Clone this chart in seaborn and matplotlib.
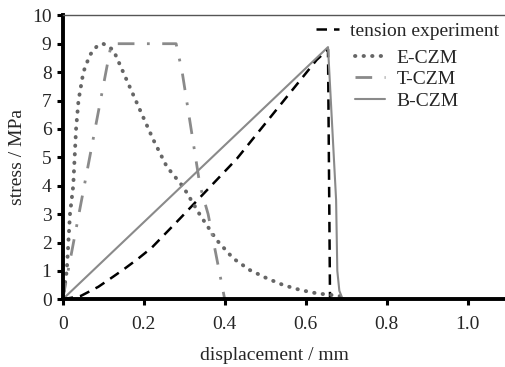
import numpy as np
import pandas as pd
import matplotlib
matplotlib.use("Agg")
import matplotlib.pyplot as plt
import seaborn as sns

# --- data ---
tension_x = [0.0, 0.02, 0.045, 0.088, 0.125, 0.154, 0.187, 0.22, 0.29, 0.38, 0.43,
             0.537, 0.627, 0.655, 0.66]
tension_y = [0.0, 0.05, 0.12, 0.44, 0.80, 1.09, 1.44, 1.82, 2.85, 4.2, 4.95,
             6.84, 8.43, 8.8, 0.0]

ecz_x = [0.0, 0.005, 0.010, 0.014, 0.018, 0.026, 0.033, 0.039, 0.051, 0.067, 0.085, 0.10,
         0.125, 0.158, 0.191, 0.224, 0.257, 0.298, 0.339, 0.38, 0.421, 0.462, 0.504,
         0.545, 0.586, 0.627, 0.677, 0.695, 0.70]
ecz_y = [0.0, 0.5, 1.0, 2.0, 3.0, 4.0, 6.0, 7.0, 8.0, 8.6, 8.92, 9.0,
         8.78, 7.72, 6.66, 5.61, 4.67, 3.95, 2.97, 2.09, 1.44, 1.03, 0.74,
         0.50, 0.33, 0.21, 0.13, 0.08, 0.0]

tcz_x = [0.0, 0.12, 0.28, 0.295, 0.339, 0.359, 0.40]
tcz_y = [0.0, 9.0, 9.0, 8.0, 4.0, 3.0, 0.0]

bcz_x = [0.0, 0.655, 0.675, 0.678, 0.683, 0.69, 0.70, 1.02]
bcz_y = [0.0, 8.88, 3.5, 1.0, 0.3, 0.05, 0.0, 0.0]

series_names = ["tension experiment", "E-CZM", "T-CZM", "B-CZM"]
x_ticks = [0, 0.2, 0.4, 0.6, 0.8, 1.0]
x_ticklabels = ["0", "0.2", "0.4", "0.6", "0.8", "1.0"]
y_ticks = list(range(0, 11))

sns.set_style("white")
plt.rcParams["font.family"] = ["Liberation Serif", "DejaVu Serif"]

W, H = 505, 367
FS = 14
fig = plt.figure(figsize=(W / 100, H / 100), dpi=100)
left, right, bottom, top = 62.7, 505, 299.3, 15.3
ax = fig.add_axes([left / W, (H - bottom) / H, (right - left) / W, (bottom - top) / H])

styles = [
    dict(color="black", linestyle=(0, (4.2, 2.8)), linewidth=1.8),
    dict(color="#666666", linestyle=(0, (0.1, 2.1)), linewidth=2.8, dash_capstyle="round"),
    dict(color="#8a8a8a", linestyle=(0, (6, 4.5, 1, 4.5)), linewidth=2.0),
    dict(color="#8a8a8a", linestyle="-", linewidth=1.5),
]
data = [(tension_x, tension_y), (ecz_x, ecz_y), (tcz_x, tcz_y), (bcz_x, bcz_y)]
for name, (xs, ys), st in zip(series_names, data, styles):
    df = pd.DataFrame({"x": xs, "y": ys})
    sns.lineplot(data=df, x="x", y="y", ax=ax, sort=False, estimator=None,
                 label=name, **st)

ax.set_xlim(0, 1.092)
ax.set_ylim(0, 10)
ax.set_xticks(x_ticks)
ax.set_xticklabels(x_ticklabels)
ax.set_yticks(y_ticks)
ax.tick_params(axis="both", direction="out", length=4, width=2.2, color="black",
               labelsize=FS, pad=4, bottom=True, left=True)
ax.tick_params(axis="x", pad=8)

for s in ["left", "bottom"]:
    ax.spines[s].set_color("black")
    ax.spines[s].set_linewidth(2.8)
ax.spines["top"].set_color("#555555")
ax.spines["top"].set_linewidth(1.0)
ax.spines["right"].set_visible(False)

ax.set_xlabel("displacement / mm", fontsize=FS)
ax.set_ylabel("stress / MPa", fontsize=FS)
ax.xaxis.set_label_coords((274 - left) / (right - left), -(355 - bottom) / (bottom - top),
                          transform=ax.transAxes)
ax.yaxis.set_label_coords(-(left - 18) / (right - left), 0.5 - (157 - (bottom + top) / 2) / (bottom - top),
                          transform=ax.transAxes)
ax.xaxis.label.set_va("center")
ax.yaxis.label.set_va("center")

handles, labels = ax.get_legend_handles_labels()
ax.get_legend().remove()
leg1 = fig.legend(handles[:1], labels[:1], loc="upper left", frameon=False, fontsize=FS,
                  handlelength=1.2, handletextpad=0.55, borderpad=0, borderaxespad=0,
                  bbox_to_anchor=(316 / W, 1 - 22 / H))
leg2 = fig.legend(handles[1:], labels[1:], loc="upper left", frameon=False, fontsize=FS,
                  handlelength=1.55, handletextpad=0.6, borderpad=0, borderaxespad=0,
                  labelspacing=0.2, bbox_to_anchor=(355 / W, 1 - 49 / H))

fig.savefig("out.png", dpi=100)
